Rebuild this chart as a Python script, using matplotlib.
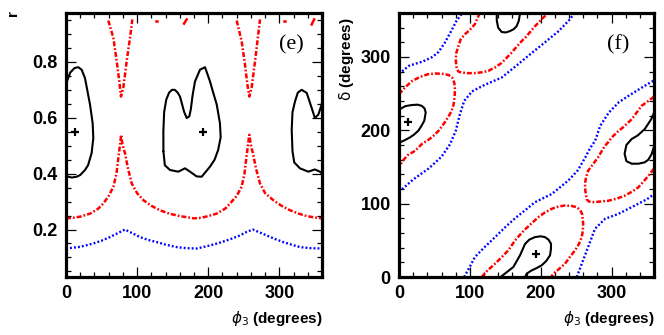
import numpy as np
import matplotlib
matplotlib.use("Agg")
import matplotlib.pyplot as plt
from matplotlib.ticker import MultipleLocator

# --- panel (e): r vs phi3 ---
e_black1_phi = [0, 1, 6, 12, 17.3, 22, 26.7, 33.8, 37.5, 38.4, 36, 31, 26.7, 20, 15, 8, 3.3, 0]
e_black1_r = [0.72, 0.728, 0.762, 0.778, 0.781, 0.772, 0.742, 0.647, 0.58, 0.527, 0.473, 0.43, 0.413, 0.395, 0.389, 0.386, 0.389, 0.392]

e_black2_phi = [137, 136.9, 138, 141, 145, 149, 153, 157, 160.3, 166, 169.7, 173.4, 175.5, 178, 181.4, 188.4, 195.5,
                202.5, 207, 212, 216.5, 217.5, 214, 209, 202.5, 190.8, 183.8, 174.4, 167.3, 158, 146.3, 139, 137]
e_black2_r = [0.48, 0.551, 0.62, 0.665, 0.69, 0.70, 0.70, 0.69, 0.676, 0.622, 0.599, 0.605, 0.63, 0.68, 0.73, 0.772, 0.781,
              0.73, 0.69, 0.647, 0.58, 0.53, 0.485, 0.45, 0.425, 0.389, 0.39, 0.407, 0.419, 0.407, 0.413, 0.43, 0.48]

e_black3_phi = [360, 357, 350, 340.7, 329, 321, 318.5, 317.4, 318.5, 322, 326, 331.4, 338.5, 345.5, 350, 354.8, 359.5, 360]
e_black3_r = [0.40, 0.407, 0.415, 0.407, 0.419, 0.44, 0.48, 0.557, 0.62, 0.658, 0.69, 0.70, 0.689, 0.635, 0.599, 0.611, 0.647, 0.655]

e_red_lo_phi = [0, 10, 20, 34, 45, 52.5, 60, 66.6, 71, 74, 76, 77.5, 79, 81, 83, 87, 92.4, 100, 108.8, 120,
                132, 145, 160, 180, 190, 200, 212, 224, 230.6, 240, 247, 251, 254, 256, 257.8, 259.5, 261, 263, 267, 272.8,
                280, 291.5, 303, 315, 327, 338.5, 350, 360]
e_red_lo_r = [0.24, 0.242, 0.246, 0.257, 0.274, 0.293, 0.32, 0.353, 0.40, 0.465, 0.505, 0.539, 0.51, 0.49, 0.473, 0.42, 0.365, 0.33, 0.305, 0.285,
              0.269, 0.257, 0.248, 0.24, 0.242, 0.248, 0.257, 0.275, 0.293, 0.32, 0.353, 0.40, 0.465, 0.505, 0.539, 0.51, 0.49, 0.473, 0.42, 0.365,
              0.33, 0.305, 0.285, 0.269, 0.257, 0.248, 0.243, 0.24]

e_red_v1_phi = [59.5, 66.6, 71.3, 75, 77.3, 80.6, 85.3, 90, 93.3]
e_red_v1_r = [0.948, 0.886, 0.802, 0.73, 0.676, 0.707, 0.802, 0.886, 0.952]
e_red_v2_phi = [240, 247, 251.7, 255, 257.8, 261, 265.8, 269.5, 272.8]
e_red_v2_r = [0.948, 0.874, 0.79, 0.72, 0.676, 0.707, 0.802, 0.88, 0.952]
e_red_bits = [([126.5, 128.5], [0.946, 0.946]), ([166, 169.7], [0.937, 0.952]),
              ([306, 308], [0.946, 0.946]), ([345.5, 349], [0.934, 0.952])]

e_blue_phi = [0, 20, 38.4, 50, 61.9, 72, 83, 93, 104, 115, 127.5, 140, 155.6, 170, 184, 202.5, 214, 226, 236, 244.7,
              253, 262.5, 272, 282, 294, 305.6, 317, 329, 345, 360]
e_blue_r = [0.132, 0.138, 0.15, 0.16, 0.173, 0.186, 0.2, 0.187, 0.173, 0.163, 0.155, 0.146, 0.137, 0.133, 0.132, 0.143, 0.151, 0.161, 0.17, 0.179,
            0.19, 0.2, 0.19, 0.179, 0.166, 0.155, 0.146, 0.137, 0.133, 0.132]

e_best_phi = [13, 193]
e_best_r = [0.55, 0.55]

# --- panel (f): delta vs phi3 ---
f_blackA_phi = [0, 1.4, 9, 17.9, 26, 32, 36, 37.7, 35.7, 31, 27.3, 21, 15.5, 8, 1.4, 0]
f_blackA_d = [230, 229, 233, 234.5, 235, 233.5, 230, 224.4, 213, 205, 199.5, 194, 190.4, 186.5, 183.6, 183]
f_blackB_phi = [143.5, 150, 161.4, 170.8, 177.9, 184, 192, 200, 206, 211, 214.6, 214.5, 213.2, 208, 201.5, 194, 187.3, 180.3, 178]
f_blackB_d = [0, 5, 13.6, 29.5, 45, 51, 54.4, 55.5, 54.4, 51, 45.4, 38, 29.5, 22, 16, 12, 9, 4.6, 0]
f_blackC_phi = [360, 356, 347, 337, 328.5, 321, 318.5, 321, 328.5, 338, 347, 352, 356.8, 360]
f_blackC_d = [224, 215, 201.8, 193, 188.2, 180, 168, 158, 154.5, 154.5, 156.4, 160, 167.8, 178]
f_blackD_phi = [138, 138, 140, 145, 151, 157, 162, 166, 169, 171]
f_blackD_d = [360, 350, 340, 334, 333.5, 335.5, 338, 342, 349, 360]

f_red1_phi = [0, 8, 18, 30, 41, 52, 62.5, 70, 75, 78, 79, 78.5, 77, 74, 70, 64, 56.5, 47, 40, 33, 22.6, 12, 5, 0]
f_red1_d = [249, 258, 267, 273, 276.5, 277.5, 277, 275.5, 272, 265, 256, 245, 235, 226, 219, 210, 200, 191, 186, 182, 172, 166, 158, 150]
f_red2_phi = [114, 107, 100, 93, 87, 84, 81, 80, 81.5, 84, 88.5, 97, 107, 116, 126, 136, 145, 152, 159, 167, 175.5, 178, 185, 192, 199, 206, 209]
f_red2_d = [360, 344.6, 337, 331, 324, 315, 306, 297, 283.4, 280, 278.8, 278, 278, 279, 281, 286, 292, 299, 306, 315, 324, 326, 334, 342, 349, 356, 360]
f_red3_phi = [116.7, 125, 135.5, 145, 154, 164, 173, 178, 187, 196.7, 206, 215.6, 225, 234, 243, 251, 256, 258.5, 260, 259.5,
              258, 254, 248.5, 241, 234.4, 226, 218, 214.6]
f_red3_d = [0, 9, 18, 27, 36, 50, 60, 65, 73, 81.6, 88, 93, 96, 97.5, 97, 95.2, 91, 86, 72.6, 63,
            54.4, 45, 36.3, 27, 18.2, 11, 4.6, 0]
f_red4_phi = [360, 352, 342.6, 328.5, 315, 309.6, 300, 295.5, 290, 281, 274, 267, 264, 262.6, 263, 265, 268, 272, 280, 295.5,
              308, 319, 330, 338, 346, 353, 360]
f_red4_d = [246, 240, 233.5, 215, 203, 199, 190, 184, 178, 163, 154, 145, 136, 127, 118, 106, 103, 102, 102.5, 104,
            107, 111, 117, 122.4, 131, 139, 148]

f_blue1_phi = [0, 14, 34, 47, 56, 65, 74, 81, 87, 90]
f_blue1_d = [277, 288, 294, 300, 307, 320, 336, 349, 357, 360]
f_blue2_phi = [0, 20, 42, 60, 72, 80, 86, 92, 103, 121, 145, 168, 183, 206, 225, 240, 248]
f_blue2_d = [116, 133, 148, 164, 181, 199, 222, 240, 253, 262, 272, 290, 302, 320, 335, 350, 360]
f_blue3_phi = [92, 100, 107, 120, 131, 150, 165, 178, 192, 216, 239, 252, 263, 270, 277, 284, 296, 310, 324, 343, 360]
f_blue3_d = [0, 14, 27, 40, 50, 68, 81, 91, 102, 113.4, 131.5, 145, 163, 176, 186, 206, 224, 238, 247, 258.4, 268]
f_blue4_phi = [251, 258, 267, 276.7, 291, 309.6, 333, 350, 360]
f_blue4_d = [0, 18, 40.8, 65.8, 79.4, 86, 97.5, 106, 113]

f_best_phi = [13, 193]
f_best_d = [211, 31]

BLACK = dict(color="black", lw=1.5, solid_capstyle="round", solid_joinstyle="round")
RED = dict(color="#ff0000", lw=1.8, dashes=(2.0, 0.8, 0.7, 0.8))
BLUE = dict(color="#0000ff", lw=1.7, dashes=(0.8, 0.9))

plt.rcParams["font.family"] = ["Liberation Sans", "DejaVu Sans"]
plt.rcParams["mathtext.fontset"] = "dejavusans"

fig = plt.figure(figsize=(6.64, 3.35), dpi=100)
W, H = 664.0, 335.0
ax_e = fig.add_axes([66 / W, 1 - 277 / H, 256 / W, 264 / H])
ax_f = fig.add_axes([399 / W, 1 - 277 / H, 255 / W, 264 / H])


def style_axes(ax, xmaj, xmin, ymaj, ymin):
    for sp in ax.spines.values():
        sp.set_linewidth(2.3)
    ax.xaxis.set_major_locator(MultipleLocator(xmaj))
    ax.xaxis.set_minor_locator(MultipleLocator(xmin))
    ax.yaxis.set_major_locator(MultipleLocator(ymaj))
    ax.yaxis.set_minor_locator(MultipleLocator(ymin))
    ax.tick_params(which="both", direction="in", top=True, right=True, width=0.9)
    ax.tick_params(which="major", length=7, labelsize=13, pad=6)
    ax.tick_params(which="minor", length=3.5)


# panel e
ax = ax_e
ax.plot(e_black1_phi, e_black1_r, **BLACK)
ax.plot(e_black2_phi, e_black2_r, **BLACK)
ax.plot(e_black3_phi, e_black3_r, **BLACK)
ax.plot(e_red_lo_phi, e_red_lo_r, **RED)
ax.plot(e_red_v1_phi, e_red_v1_r, **RED)
ax.plot(e_red_v2_phi, e_red_v2_r, **RED)
for bx, by in e_red_bits:
    ax.plot(bx, by, color="#ff0000", lw=1.8)
ax.plot(e_blue_phi, e_blue_r, **BLUE)
ax.plot(e_best_phi, e_best_r, "k+", ms=6, mew=1.6)
ax.set_xlim(0, 360)
ax.set_ylim(0.03, 0.975)
style_axes(ax, 100, 20, 0.2, 0.05)
ax.set_yticks([0.2, 0.4, 0.6, 0.8])
ax.set_yticklabels(["0.2", "0.4", "0.6", "0.8"], fontweight="bold")
ax.set_xticks([0, 100, 200, 300])
ax.set_xticklabels(["0", "100", "200", "300"], fontweight="bold")
ax.text(0.88, 0.88, "(e)", transform=ax.transAxes, ha="center", va="center",
        fontsize=16, family="Liberation Serif")

# panel f
ax = ax_f
for px, py in [(f_blackA_phi, f_blackA_d), (f_blackB_phi, f_blackB_d),
               (f_blackC_phi, f_blackC_d), (f_blackD_phi, f_blackD_d)]:
    ax.plot(px, py, **BLACK)
for px, py in [(f_red1_phi, f_red1_d), (f_red2_phi, f_red2_d),
               (f_red3_phi, f_red3_d), (f_red4_phi, f_red4_d)]:
    ax.plot(px, py, **RED)
for px, py in [(f_blue1_phi, f_blue1_d), (f_blue2_phi, f_blue2_d),
               (f_blue3_phi, f_blue3_d), (f_blue4_phi, f_blue4_d)]:
    ax.plot(px, py, **BLUE)
ax.plot(f_best_phi, f_best_d, "k+", ms=6, mew=1.6)
ax.set_xlim(0, 360)
ax.set_ylim(0, 360)
style_axes(ax, 100, 20, 100, 20)
ax.set_yticks([0, 100, 200, 300])
ax.set_yticklabels(["0", "100", "200", "300"], fontweight="bold")
ax.set_xticks([0, 100, 200, 300])
ax.set_xticklabels(["0", "100", "200", "300"], fontweight="bold")
ax.text(0.86, 0.88, "(f)", transform=ax.transAxes, ha="center", va="center",
        fontsize=16, family="Liberation Serif")

# axis titles, ROOT style at the ends of the axes
fig.text(322 / W, 1 - 318 / H, r"$\phi_3$ (degrees)", ha="right", va="center",
         fontsize=11, fontweight="bold")
fig.text(654 / W, 1 - 318 / H, r"$\phi_3$ (degrees)", ha="right", va="center",
         fontsize=11, fontweight="bold")
fig.text(13 / W, 1 - 10 / H, "r", rotation=90, ha="center", va="top",
         fontsize=11, fontweight="bold")
fig.text(346 / W, 1 - 17 / H, r"$\mathrm{\delta}$ (degrees)", rotation=90, ha="center", va="top",
         fontsize=11, fontweight="bold")

fig.savefig("out.png", dpi=100)
